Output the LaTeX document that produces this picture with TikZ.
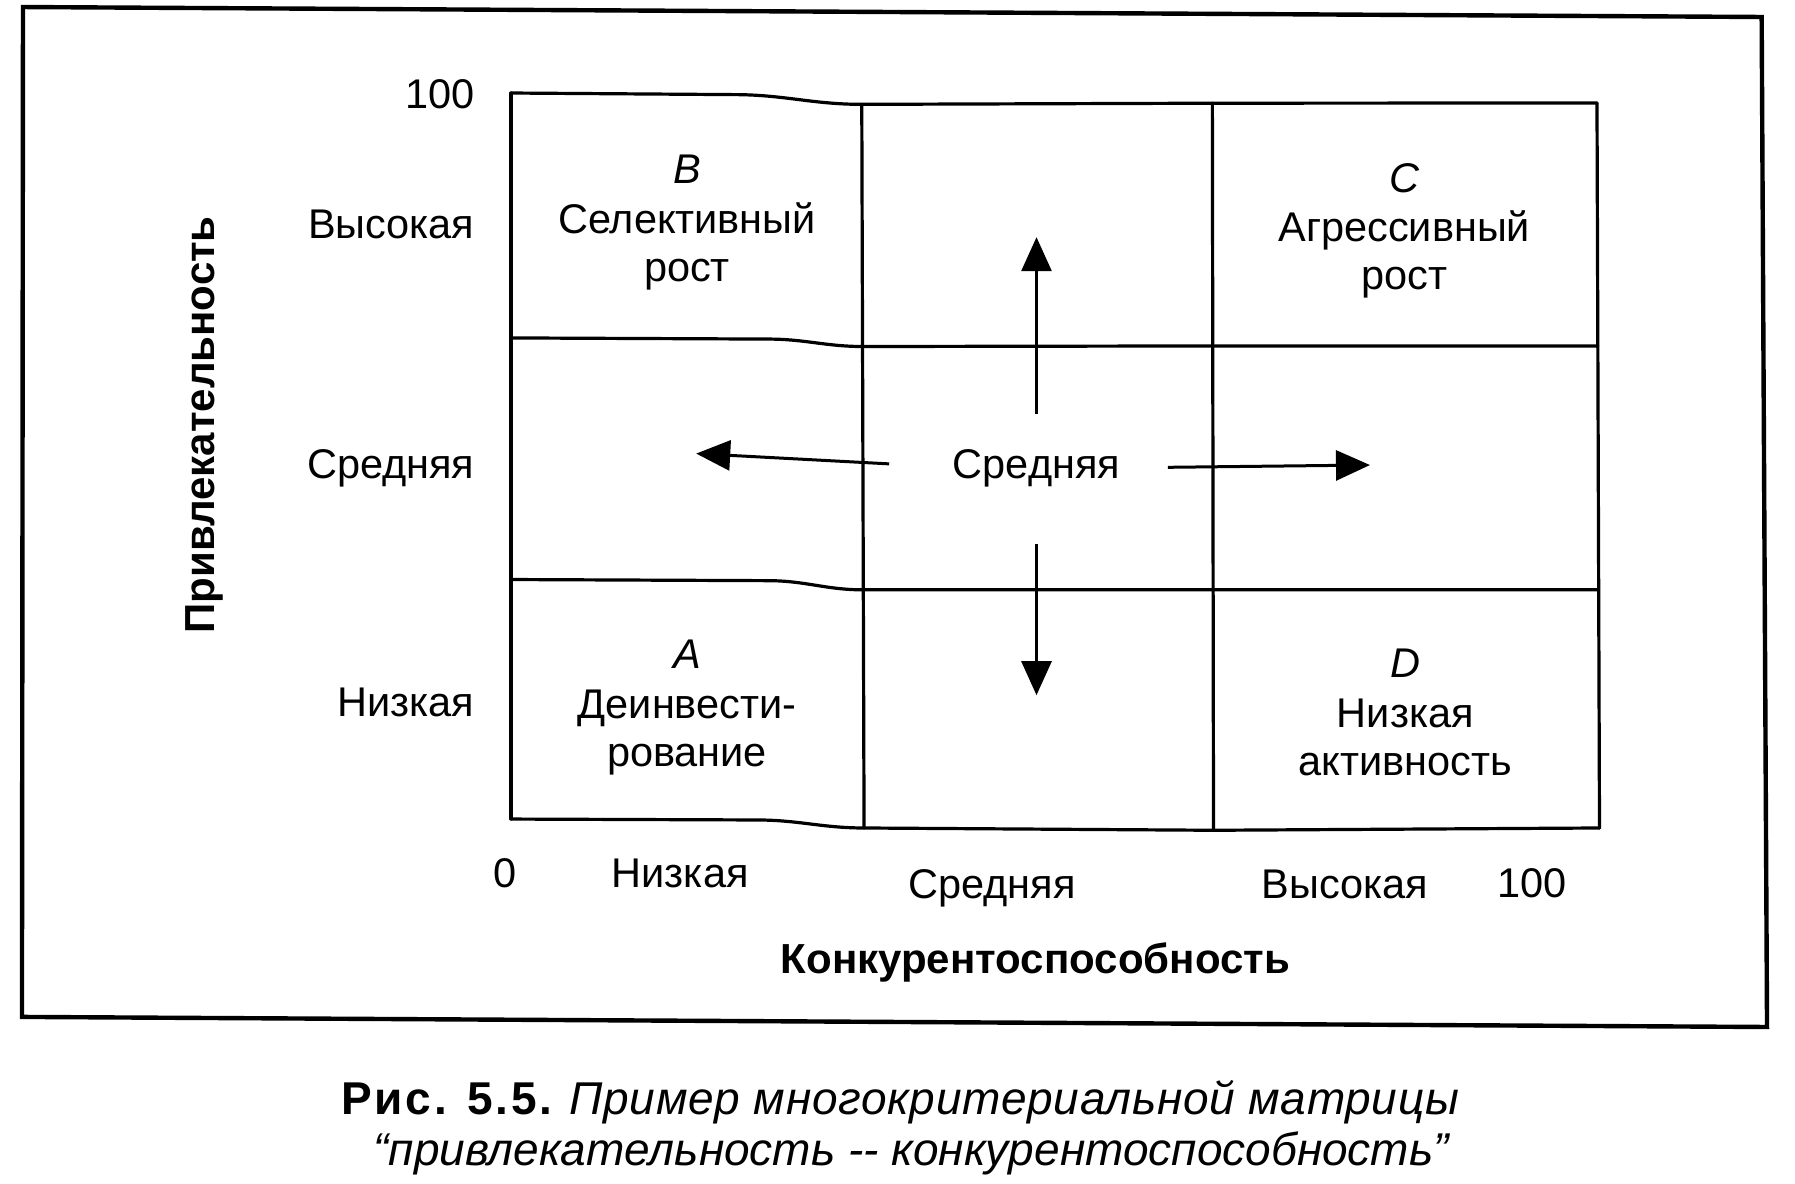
\documentclass[tikz,border=0pt]{standalone}
\usepackage{fontspec}
\setmainfont{Liberation Sans}
\usetikzlibrary{arrows.meta}
\begin{document}
\begin{tikzpicture}[x=1.142pt,y=-1.145pt,
  gridline/.style={line width=3.2pt,line join=round,line cap=round},
  framebox/.style={line width=4.4pt,line join=miter},
  mvarrow/.style={line width=3pt,-{Triangle[length=34pt,width=30pt]}},
  lbl/.style={font=\fontsize{41.5}{50}\selectfont,inner sep=0pt,anchor=base},
  lblr/.style={lbl,anchor=base east},
  axisttl/.style={font=\fontsize{42}{50}\selectfont\bfseries,inner sep=0pt,anchor=base},
  capt/.style={font=\fontsize{46}{54}\selectfont,inner sep=0pt,anchor=base}]
\useasboundingbox (-2.63,0.87) rectangle (1569.2,1034.9);
% outer frame
\draw[framebox] (17.5,7) -- (1540,15.7) -- (1544.7,897.8) -- (16.6,889) -- cycle;
% grid coordinates
\coordinate (t0) at (444.8,82.1);
\coordinate (t1) at (640,83.5);
\coordinate (t2) at (752,92);
\coordinate (t3) at (1059,91);
\coordinate (t4) at (1395.8,90.8);
\coordinate (r0) at (444.8,296);
\coordinate (r1) at (670,297);
\coordinate (r2) at (753,303.5);
\coordinate (r3) at (1059,303);
\coordinate (r4) at (1396.5,303);
\coordinate (s0) at (444.8,507);
\coordinate (s1) at (670,508);
\coordinate (s2) at (753,516);
\coordinate (s3) at (1059.5,516);
\coordinate (s4) at (1397,516);
\coordinate (b0) at (444.8,716.2);
\coordinate (b1) at (660,717);
\coordinate (b2) at (754,724);
\coordinate (b3) at (1060,726);
\coordinate (b4) at (1398,724);
% horizontal lines
\draw[gridline] (t0) -- (t1) to[out=0,in=180] (t2) -- (t3) -- (t4);
\draw[gridline] (r0) -- (r1) to[out=0,in=180] (r2) -- (r3) -- (r4);
\draw[gridline] (s0) -- (s1) to[out=0,in=180] (s2) -- (s3) -- (s4);
\draw[gridline] (b0) -- (b1) to[out=0,in=180] (b2) -- (b3) -- (b4);
% vertical lines
\draw[gridline] (t0) -- (b0);
\draw[gridline] (t2) -- (b2);
\draw[gridline] (t3) -- (b3);
\draw[gridline] (t4) -- (b4);
% left axis labels
\node[lblr] (y100) at (413,96) {100};
\node[lblr] (yhigh) at (413,209) {Высокая};
\node[lblr] (ymid) at (413,419) {Средняя};
\node[lblr] (ylow) at (413,627) {Низкая};
\node[axisttl,rotate=90] (ylab) at (185,372) {Привлекательность};
% cells
\node[lbl] (bl) at (599,161) {\textit{B}};
\node[lbl] (b1t) at (599,205) {Селективный};
\node[lbl] (b2t) at (599,247) {рост};
\node[lbl] (cl) at (1227,169) {\textit{C}};
\node[lbl] (c1t) at (1227,212) {Агрессивный};
\node[lbl] (c2t) at (1227,254) {рост};
\node[lbl] (al) at (599,585) {\textit{A}};
\node[lbl] (a1t) at (599,628) {Деинвести-};
\node[lbl] (a2t) at (599,670) {рование};
\node[lbl] (dl) at (1228,593) {\textit{D}};
\node[lbl] (d1t) at (1228,636) {Низкая};
\node[lbl] (d2t) at (1228,678) {активность};
\node[lbl] (mid) at (905,419) {Средняя};
% arrows
\coordinate (upS) at (905,362);
\coordinate (upE) at (905,208);
\coordinate (dnS) at (905,476);
\coordinate (dnE) at (905,608);
\coordinate (lfS) at (776,406);
\coordinate (lfE) at (607,397);
\coordinate (rtS) at (1020,409);
\coordinate (rtE) at (1197,407);
\draw[mvarrow] (upS) -- (upE);
\draw[mvarrow] (dnS) -- (dnE);
\draw[mvarrow] (lfS) -- (lfE);
\draw[mvarrow] (rtS) -- (rtE);
% bottom axis labels
\node[lbl] (x0) at (440,776) {0};
\node[lbl] (xlow) at (593,776) {Низкая};
\node[lbl] (xmid) at (866,786) {Средняя};
\node[lbl] (xhigh) at (1175,786) {Высокая};
\node[lbl] (x100) at (1339,785) {100};
\node[axisttl] (xlab) at (904,851) {Конкурентоспособность};
% caption
\node[capt] (cap1) at (786,974) {{\bfseries\addfontfeature{LetterSpace=6}Рис. 5.5.} {\addfontfeature{LetterSpace=1.5}\textit{Пример многокритериальной матрицы}}};
\node[capt] (cap2) at (796,1019) {\textit{“привлекательность -{}- конкурентоспособность”}};
\end{tikzpicture}
\end{document}
